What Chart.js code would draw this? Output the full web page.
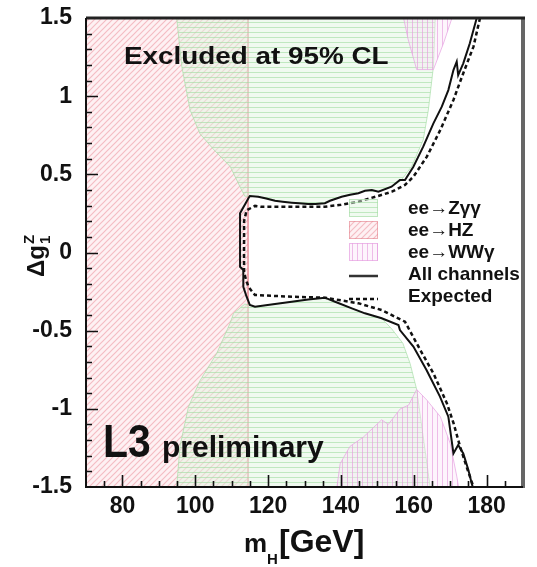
<!DOCTYPE html>
<html>
<head>
<meta charset="utf-8">
<script src="https://cdn.jsdelivr.net/npm/chart.js@4.4.1/dist/chart.umd.min.js"></script>
<style>
  html, body { margin: 0; padding: 0; background: #fff; }
  #wrap { width: 537px; height: 567px; }
</style>
</head>
<body>
<div id="wrap"><canvas id="c" width="537" height="567"></canvas></div>
<script>
/*
 ** L3 preliminary : m_H vs Δg1Z 배제 영역
 */

// 축 눈금
const xTicks = [80, 100, 120, 140, 160, 180];
const yTicks = [-1.5, -1, -0.5, 0, 0.5, 1, 1.5];

// ee->HZ
const hzX = [70, 70, 114.5, 114.5];
const hzY = [-1.5, 1.5, 1.5, -1.5];

// ee->Zγγ (위)
const zggUpX = [94.9, 96.3, 98.6, 101.3, 105, 109.6, 112.3, 113.6, 115.0, 117.3, 121.9, 126.5, 131, 135.6, 137, 140.2, 144.8, 146.6, 150.3, 153.9, 156.5, 159.4, 162.6, 164.0, 165.4, 165.9];
const zggUpY = [1.5, 1.19, 0.91, 0.76, 0.66, 0.55, 0.42, 0.36, 0.361, 0.357, 0.331, 0.319, 0.31, 0.315, 0.331, 0.357, 0.379, 0.395, 0.389, 0.421, 0.46, 0.55, 0.72, 0.91, 1.19, 1.5];

// ee->Zγγ (아래)
const zggLoX = [94.9, 95.8, 98.1, 101.3, 105.9, 109.6, 110.5, 113.6, 115.0, 116.4, 121.9, 131, 135.6, 138.4, 143, 146.6, 151.2, 154, 157, 159, 160.8, 164.5];
const zggLoY = [-1.5, -1.24, -0.99, -0.82, -0.645, -0.45, -0.39, -0.33, -0.336, -0.347, -0.329, -0.30, -0.289, -0.315, -0.357, -0.389, -0.421, -0.49, -0.58, -0.71, -0.876, -1.5];

// ee->WWγ (위, 아래)
const wwgUpX = [157.2, 158.5, 160.8, 165.4, 168.2, 170.5];
const wwgUpY = [1.5, 1.36, 1.17, 1.17, 1.34, 1.5];
const wwgLoX = [138.9, 139.8, 142.5, 146.2, 151.2, 153, 156.3, 158.6, 160.8, 163.6, 167.3, 170, 171.8, 172.3];
const wwgLoY = [-1.5, -1.35, -1.24, -1.18, -1.07, -1.10, -1.0, -0.976, -0.876, -0.944, -1.05, -1.22, -1.43, -1.5];

// All channels (실선)
const allX = [177.3, 175.4, 173.6, 172.2, 171.8, 170.9, 169.5, 167.7, 165.4, 162.6, 159.9, 157.6, 156.2, 153.9, 150.3, 148.5, 146.6, 144.8, 142.5, 140.2, 137, 135.6, 133, 131, 128.5, 126.5, 124, 121.9, 119.5, 117.3, 115.0, 114.6, 112.3, 112.3, 113.2, 113.2, 114.1, 115.0, 116.4, 121.9, 126.5, 131, 135.6, 138.4, 143, 146.6, 151.2, 155.8, 156.2, 159.9, 163.5, 167.2, 169.5, 170.9, 172.2, 173.6, 175.0, 175.9, 176.2];
const allY = [1.5, 1.338, 1.21, 1.135, 1.221, 1.167, 1.039, 0.933, 0.826, 0.677, 0.549, 0.464, 0.464, 0.421, 0.389, 0.40, 0.395, 0.379, 0.37, 0.357, 0.331, 0.315, 0.31, 0.31, 0.315, 0.319, 0.325, 0.331, 0.345, 0.357, 0.361, 0.347, 0.251, -0.091, -0.112, -0.219, -0.283, -0.336, -0.347, -0.329, -0.315, -0.30, -0.289, -0.315, -0.357, -0.389, -0.421, -0.464, -0.496, -0.602, -0.752, -0.922, -1.05, -1.285, -1.231, -1.285, -1.391, -1.476, -1.5];

// Expected (점선)
const expX = [178.2, 176.4, 173.6, 170.9, 167.3, 163.6, 159.9, 157.6, 154, 150, 144.8, 140, 135.6, 126.5, 118, 116.4, 114.1, 113.4, 113.4, 114.6, 116.4, 126.5, 135.6, 144.8, 151.2, 157.6, 161.8, 165.4, 169.1, 170.9, 172.7, 174.5, 176.4];
const expY = [1.5, 1.317, 1.147, 0.976, 0.784, 0.613, 0.485, 0.432, 0.389, 0.36, 0.325, 0.305, 0.293, 0.293, 0.293, 0.298, 0.27, 0.2, -0.133, -0.22, -0.272, -0.283, -0.289, -0.325, -0.368, -0.443, -0.624, -0.773, -0.965, -1.09, -1.24, -1.37, -1.5];

// 범례
const legendLabels = ['ee\u2192Z\u03b3\u03b3', 'ee\u2192HZ', 'ee\u2192WW\u03b3', 'All channels', 'Expected'];

const FONT = "'Liberation Sans', Arial, Helvetica, sans-serif";

function pts(xs, ys) {
  return xs.map(function (x, i) {
    return { x: x, y: ys[i] };
  });
}

const canvas = document.getElementById('c');
const ctx0 = canvas.getContext('2d');

// 해칭 패턴
function makePattern(kind) {
  const s = kind === 'diag' ? 6 : 5;
  const c = document.createElement('canvas');
  c.width = s;
  c.height = s;
  const g = c.getContext('2d');
  if (kind === 'diag') {
    g.fillStyle = 'rgba(252,225,228,0.45)';
    g.fillRect(0, 0, s, s);
    g.strokeStyle = 'rgba(230,125,138,0.45)';
    g.lineWidth = 1.2;
    g.beginPath();
    g.moveTo(0, s); g.lineTo(s, 0);
    g.moveTo(-1, 1); g.lineTo(1, -1);
    g.moveTo(s - 1, s + 1); g.lineTo(s + 1, s - 1);
    g.stroke();
  } else if (kind === 'horiz') {
    g.fillStyle = 'rgba(225,246,225,0.5)';
    g.fillRect(0, 0, s, s);
    g.fillStyle = 'rgba(160,220,160,0.6)';
    g.fillRect(0, 2, s, 1);
  } else {
    g.fillStyle = 'rgba(250,230,248,0.4)';
    g.fillRect(0, 0, s, s);
    g.fillStyle = 'rgba(228,150,220,0.6)';
    g.fillRect(2, 0, 1, s);
  }
  return ctx0.createPattern(c, 'repeat');
}

const hzPat = makePattern('diag');
const zggPat = makePattern('horiz');
const wwgPat = makePattern('vert');

const hzBorder = 'rgba(228,130,140,0.6)';
const zggBorder = 'rgba(170,222,170,0.7)';
const wwgBorder = 'rgba(230,160,225,0.7)';

function region(label, xs, ys, pat, border) {
  return {
    label: label,
    data: pts(xs, ys),
    showLine: true,
    fill: 'shape',
    backgroundColor: pat,
    borderColor: border,
    borderWidth: 1,
    pointRadius: 0,
  };
}

// 눈금, 테두리, 텍스트, 범례
const decorPlugin = {
  id: 'decor',
  afterDatasetsDraw: function (chart) {
    const ctx = chart.ctx;
    const a = chart.chartArea;
    const xs = chart.scales.x;
    const ys = chart.scales.y;
    ctx.save();
    ctx.strokeStyle = '#111';
    ctx.lineWidth = 1.6;
    ctx.beginPath();
    for (let v = 75; v < 190; v += 5) {
      const px = Math.round(xs.getPixelForValue(v)) + 0.5;
      const len = v % 20 === 0 ? 12 : 6;
      ctx.moveTo(px, a.bottom);
      ctx.lineTo(px, a.bottom - len);
    }
    for (let k = -14; k <= 14; k++) {
      const py = Math.round(ys.getPixelForValue(k / 10)) + 0.5;
      const len = k % 5 === 0 ? 12 : 6;
      ctx.moveTo(a.left, py);
      ctx.lineTo(a.left + len, py);
    }
    ctx.stroke();

    // 테두리
    ctx.strokeStyle = '#666';
    ctx.lineWidth = 4;
    ctx.beginPath();
    ctx.moveTo(a.right, a.top);
    ctx.lineTo(a.right, a.bottom + 1);
    ctx.stroke();
    ctx.strokeStyle = '#222';
    ctx.lineWidth = 3;
    ctx.beginPath();
    ctx.moveTo(a.left, a.top);
    ctx.lineTo(a.right + 2, a.top);
    ctx.stroke();
    ctx.strokeStyle = '#111';
    ctx.lineWidth = 2;
    ctx.beginPath();
    ctx.moveTo(a.left, a.top);
    ctx.lineTo(a.left, a.bottom);
    ctx.lineTo(a.right, a.bottom);
    ctx.stroke();
    ctx.restore();
  },
  afterDraw: function (chart) {
    const ctx = chart.ctx;
    ctx.save();
    ctx.fillStyle = '#111';
    ctx.textBaseline = 'alphabetic';
    ctx.textAlign = 'left';

    // Excluded at 95% CL
    ctx.save();
    ctx.translate(124, 64);
    ctx.scale(1.16, 1);
    ctx.font = 'bold 24px ' + FONT;
    ctx.fillText('Excluded at 95% CL', 0, 0);
    ctx.restore();

    // L3 preliminary
    ctx.save();
    ctx.translate(103, 457);
    ctx.scale(0.87, 1);
    ctx.font = 'bold 47px ' + FONT;
    ctx.fillText('L3', 0, 0);
    ctx.restore();
    ctx.font = 'bold 30px ' + FONT;
    ctx.fillText('preliminary', 162, 457);

    // x축 제목
    ctx.font = 'bold 26px ' + FONT;
    ctx.fillText('m', 244, 552);
    let w = ctx.measureText('m').width;
    ctx.font = 'bold 15px ' + FONT;
    ctx.fillText('H', 244 + w, 564);
    ctx.font = 'bold 32px ' + FONT;
    ctx.fillText('[GeV]', 279, 552);

    // y축 제목
    ctx.save();
    ctx.translate(44, 277);
    ctx.rotate(-Math.PI / 2);
    ctx.font = 'bold 24px ' + FONT;
    ctx.fillText('\u0394g', 0, 0);
    w = ctx.measureText('\u0394g').width;
    ctx.font = 'bold 15px ' + FONT;
    ctx.fillText('1', w + 1, 6);
    ctx.fillText('Z', w + 1, -10);
    ctx.restore();

    // 범례
    const rows = [209, 231, 253, 275, 297];
    const pats = [[zggPat, zggBorder], [hzPat, hzBorder], [wwgPat, wwgBorder]];
    for (let i = 0; i < 3; i++) {
      ctx.fillStyle = pats[i][0];
      ctx.fillRect(349, rows[i] - 10, 29, 18);
      ctx.strokeStyle = pats[i][1];
      ctx.lineWidth = 1;
      ctx.strokeRect(349.5, rows[i] - 9.5, 28, 17);
    }
    ctx.strokeStyle = '#333';
    ctx.lineWidth = 2.5;
    ctx.beginPath();
    ctx.moveTo(349, 276);
    ctx.lineTo(378, 276);
    ctx.stroke();
    ctx.setLineDash([4, 3]);
    ctx.strokeStyle = '#111';
    ctx.beginPath();
    ctx.moveTo(349, 299);
    ctx.lineTo(378, 299);
    ctx.stroke();
    ctx.setLineDash([]);

    ctx.fillStyle = '#111';
    ctx.font = 'bold 19px ' + FONT;
    ctx.textBaseline = 'middle';
    for (let i = 0; i < legendLabels.length; i++) {
      ctx.fillText(legendLabels[i], 408, rows[i]);
    }
    ctx.restore();
  },
};

const tickFont = { family: FONT, size: 23, weight: 'bold' };

new Chart(canvas, {
  type: 'scatter',
  data: {
    datasets: [
      {
        label: 'All channels',
        data: pts(allX, allY),
        showLine: true,
        fill: false,
        borderColor: '#111',
        borderWidth: 2,
        pointRadius: 0,
      },
      {
        label: 'Expected',
        data: pts(expX, expY),
        showLine: true,
        fill: false,
        borderColor: '#111',
        borderWidth: 2.5,
        borderDash: [4, 3],
        pointRadius: 0,
      },
      region('ee->WWg up', wwgUpX, wwgUpY, wwgPat, wwgBorder),
      region('ee->WWg lo', wwgLoX, wwgLoY, wwgPat, wwgBorder),
      region('ee->Zgg up', zggUpX, zggUpY, zggPat, zggBorder),
      region('ee->Zgg lo', zggLoX, zggLoY, zggPat, zggBorder),
      region('ee->HZ', hzX, hzY, hzPat, hzBorder),
    ],
  },
  options: {
    responsive: false,
    animation: false,
    events: [],
    layout: {
      padding: { left: 0, right: 14, top: 18, bottom: 0 },
    },
    plugins: {
      legend: { display: false },
      tooltip: { enabled: false },
    },
    scales: {
      x: {
        type: 'linear',
        min: 70,
        max: 190,
        afterBuildTicks: function (s) {
          s.ticks = xTicks.map(function (v) { return { value: v }; });
        },
        afterFit: function (s) {
          s.height = 80;
          s.paddingLeft = 0;
          s.paddingRight = 0;
        },
        grid: { display: false, drawTicks: false },
        border: { display: false },
        ticks: { font: tickFont, color: '#111', padding: 6, maxRotation: 0 },
      },
      y: {
        type: 'linear',
        min: -1.5,
        max: 1.5,
        afterBuildTicks: function (s) {
          s.ticks = yTicks.map(function (v) { return { value: v }; });
        },
        afterFit: function (s) {
          s.width = 86;
          s.paddingTop = 0;
          s.paddingBottom = 0;
        },
        grid: { display: false, drawTicks: false },
        border: { display: false },
        ticks: {
          font: tickFont,
          color: '#111',
          padding: 14,
          callback: function (v) { return String(v); },
        },
      },
    },
  },
  plugins: [decorPlugin],
});
</script>
</body>
</html>
